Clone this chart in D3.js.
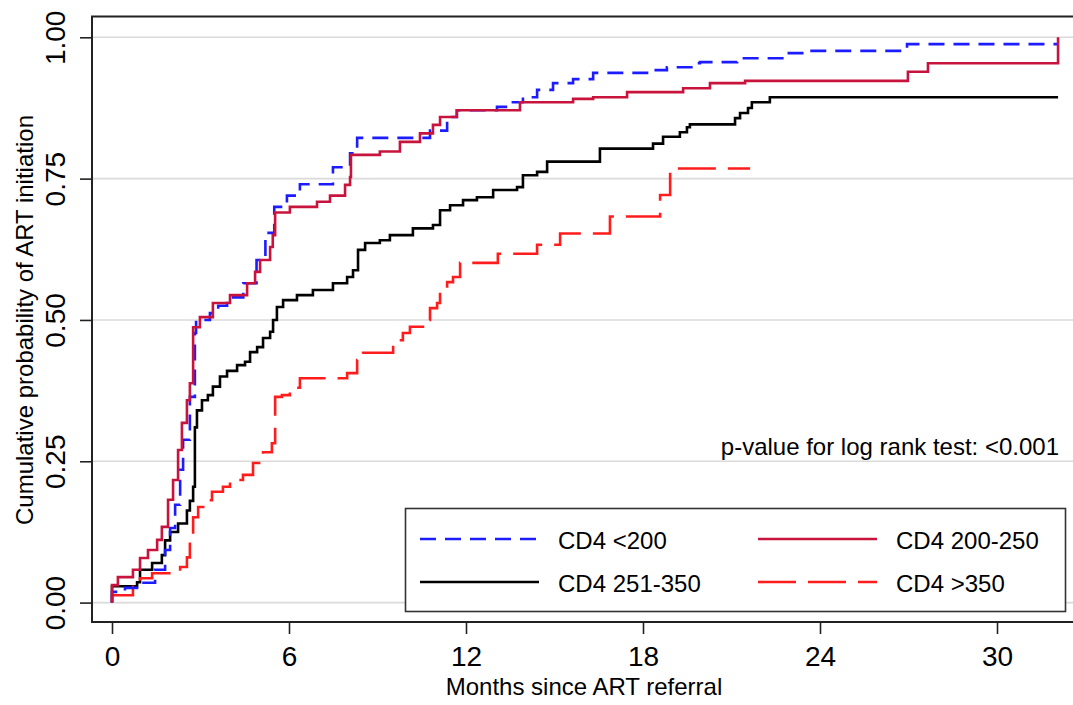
<!DOCTYPE html>
<html>
<head>
<meta charset="utf-8">
<script src="https://cdn.jsdelivr.net/npm/d3@7"></script>
<style>
  body { margin: 0; background: #fff; }
  text { font-family: "Liberation Sans", Arial, Helvetica, sans-serif; fill: #000; }
</style>
</head>
<body>
<div id="chart"></div>
<script>
// step points [months, cumulative probability]
var cd4_lt200 = [[0,0],[0,0.019],[0.44,0.026],[0.95,0.035],[1.46,0.058],[1.8,0.093],[1.97,0.132],[2.14,0.173],[2.31,0.235],[2.41,0.288],[2.64,0.364],[2.81,0.477],[2.85,0.5],[3.32,0.512],[3.6,0.525],[3.9,0.54],[4.45,0.565],[4.9,0.606],[5.2,0.654],[5.5,0.7],[5.93,0.72],[6.37,0.74],[7.49,0.77],[8.07,0.795],[8.31,0.822],[10.2,0.822],[10.78,0.835],[11.36,0.859],[11.69,0.871],[13.05,0.877],[13.59,0.885],[13.93,0.894],[14.41,0.907],[14.95,0.919],[15.63,0.926],[16.31,0.937],[18.34,0.942],[18.81,0.947],[19.69,0.954],[19.93,0.956],[21.19,0.963],[22.88,0.972],[23.66,0.976],[26.95,0.988],[32.07,0.988]]

var cd4_200_250 = [[0,0],[0,0.031],[0.2,0.045],[0.71,0.058],[0.95,0.079],[1.22,0.093],[1.53,0.111],[1.69,0.134],[1.9,0.182],[2.07,0.217],[2.24,0.27],[2.37,0.318],[2.54,0.358],[2.64,0.388],[2.75,0.487],[2.98,0.505],[3.42,0.53],[4.0,0.544],[4.58,0.565],[4.85,0.585],[5.02,0.606],[5.36,0.629],[5.45,0.65],[5.53,0.69],[6.03,0.7],[6.95,0.709],[7.39,0.72],[7.9,0.739],[8.07,0.753],[8.1,0.792],[9.08,0.798],[9.76,0.815],[10.44,0.83],[10.88,0.845],[11.12,0.859],[11.69,0.871],[13.83,0.885],[15.63,0.891],[16.31,0.894],[17.46,0.903],[19.36,0.91],[20.27,0.919],[21.46,0.923],[26.98,0.939],[27.66,0.954],[32.07,1.0]]

var cd4_251_350 = [[0,0],[0,0.029],[0.85,0.036],[0.95,0.058],[1.36,0.07],[1.69,0.084],[1.8,0.11],[1.97,0.125],[2.24,0.14],[2.54,0.163],[2.64,0.18],[2.75,0.205],[2.81,0.31],[2.88,0.34],[3.05,0.358],[3.25,0.367],[3.42,0.382],[3.66,0.4],[3.9,0.41],[4.24,0.42],[4.51,0.426],[4.68,0.443],[4.92,0.452],[5.12,0.468],[5.36,0.479],[5.46,0.5],[5.59,0.523],[5.8,0.535],[6.27,0.544],[6.81,0.553],[7.49,0.565],[7.97,0.576],[8.17,0.588],[8.34,0.624],[8.58,0.636],[9.08,0.641],[9.42,0.65],[10.2,0.662],[10.88,0.668],[11.12,0.694],[11.46,0.703],[11.9,0.712],[12.37,0.717],[12.92,0.73],[13.73,0.735],[13.93,0.756],[14.41,0.762],[14.75,0.78],[16.54,0.803],[18.34,0.812],[18.68,0.824],[19.25,0.832],[19.49,0.841],[19.59,0.846],[21.12,0.857],[21.29,0.866],[21.56,0.875],[21.69,0.885],[22.3,0.894],[32.07,0.894]]

var cd4_gt350 = [[0,0],[0,0.013],[0.71,0.035],[0.95,0.043],[1.36,0.052],[2.31,0.063],[2.54,0.08],[2.64,0.11],[2.75,0.151],[2.92,0.169],[3.22,0.181],[3.39,0.196],[3.76,0.205],[4.0,0.217],[4.44,0.226],[4.78,0.247],[5.12,0.266],[5.42,0.282],[5.53,0.364],[5.76,0.367],[6.03,0.38],[6.37,0.397],[7.97,0.406],[8.31,0.429],[8.51,0.442],[9.53,0.456],[9.69,0.464],[9.86,0.477],[10.1,0.488],[10.54,0.5],[10.78,0.521],[11.02,0.53],[11.12,0.553],[11.36,0.567],[11.56,0.576],[11.8,0.601],[13.08,0.617],[14.41,0.633],[15.19,0.653],[16.88,0.683],[18.58,0.721],[18.92,0.768],[21.63,0.768]]

var series_names = ["CD4 <200", "CD4 200-250", "CD4 251-350", "CD4 >350"]
var x_ticks = [0, 6, 12, 18, 24, 30]
var y_ticks = [0, 0.25, 0.5, 0.75, 1]
var p_note = "p-value for log rank test: <0.001"

var width = 1073, height = 705

var styles = {
  "CD4 <200":    { color: "#1c1cff", dash: "16,9" },
  "CD4 200-250": { color: "#c8143c", dash: null },
  "CD4 251-350": { color: "#000000", dash: null },
  "CD4 >350":    { color: "#ff1c1c", dash: "38,12" }
}
var series_data = {
  "CD4 <200": cd4_lt200,
  "CD4 200-250": cd4_200_250,
  "CD4 251-350": cd4_251_350,
  "CD4 >350": cd4_gt350
}

var svg = d3.select("#chart").append("svg")
  .attr("width", width)
  .attr("height", height)

var x = d3.scaleLinear().domain([0, 30]).range([112, 997])
var y = d3.scaleLinear().domain([0, 1]).range([602.6, 37.3])

var frame_left = 92, frame_top = 16.5, frame_bottom = 622

// grid lines
svg.append("g").selectAll("line")
  .data(y_ticks)
  .enter().append("line")
  .attr("x1", frame_left).attr("x2", width)
  .attr("y1", function(d) { return y(d) })
  .attr("y2", function(d) { return y(d) })
  .attr("stroke", "#dadada")
  .attr("stroke-width", 1.6)

// curves
var line = d3.line()
  .x(function(d) { return x(d[0]) })
  .y(function(d) { return y(d[1]) })
  .curve(d3.curveStepAfter)

var draw_order = ["CD4 251-350", "CD4 >350", "CD4 <200", "CD4 200-250"]
svg.append("g").selectAll("path")
  .data(draw_order)
  .enter().append("path")
  .attr("d", function(d) { return line(series_data[d]) })
  .attr("fill", "none")
  .attr("stroke", function(d) { return styles[d].color })
  .attr("stroke-width", 2.6)
  .attr("stroke-dasharray", function(d) { return styles[d].dash })

// frame (right side is cut off in the original)
svg.append("path")
  .attr("d", "M" + (width + 5) + "," + frame_top + "H" + frame_left + "V" + frame_bottom + "H" + (width + 5))
  .attr("fill", "none")
  .attr("stroke", "#222")
  .attr("stroke-width", 2)

// x axis
var x_axis = svg.append("g")
  .attr("transform", "translate(0," + frame_bottom + ")")
  .call(d3.axisBottom(x).tickValues(x_ticks).tickSize(12).tickPadding(12).tickFormat(d3.format("d")))
x_axis.select(".domain").remove()
x_axis.selectAll(".tick line").attr("stroke", "#222").attr("stroke-width", 1.6)
x_axis.selectAll(".tick text")
  .attr("font-size", 28)
  .attr("font-family", "Liberation Sans, Arial, sans-serif")
  .attr("fill", "#000")

// y axis with rotated labels
var y_axis = svg.append("g")
  .attr("transform", "translate(" + frame_left + ",0)")
  .call(d3.axisLeft(y).tickValues(y_ticks).tickSize(12).tickFormat(d3.format(".2f")))
y_axis.select(".domain").remove()
y_axis.selectAll(".tick line").attr("stroke", "#222").attr("stroke-width", 1.6)
y_axis.selectAll(".tick text")
  .attr("transform", "rotate(-90)")
  .attr("x", 0)
  .attr("y", -27)
  .attr("dy", 0)
  .attr("text-anchor", "middle")
  .attr("font-size", 28)
  .attr("font-family", "Liberation Sans, Arial, sans-serif")
  .attr("fill", "#000")

// axis titles
svg.append("text")
  .attr("x", 584).attr("y", 695)
  .attr("text-anchor", "middle")
  .attr("font-size", 24)
  .text("Months since ART referral")

svg.append("text")
  .attr("transform", "translate(33,320) rotate(-90)")
  .attr("text-anchor", "middle")
  .attr("font-size", 24)
  .text("Cumulative probability of ART initiation")

// p-value note
svg.append("text")
  .attr("x", 1059).attr("y", 455)
  .attr("text-anchor", "end")
  .attr("font-size", 24)
  .text(p_note)

// legend
var legend = svg.append("g")
legend.append("rect")
  .attr("x", 405.5).attr("y", 508.5)
  .attr("width", 660).attr("height", 103)
  .attr("fill", "#fff")
  .attr("stroke", "#333")
  .attr("stroke-width", 1.6)

var legend_cols = [420, 758]
var legend_rows = [539, 582]
var items = legend.selectAll("g.item")
  .data(series_names)
  .enter().append("g")
  .attr("class", "item")
  .attr("transform", function(d, i) {
    return "translate(" + legend_cols[i % 2] + "," + legend_rows[Math.floor(i / 2)] + ")"
  })
items.append("line")
  .attr("x1", 0).attr("x2", 119)
  .attr("y1", 0).attr("y2", 0)
  .attr("stroke", function(d) { return styles[d].color })
  .attr("stroke-width", 2.6)
  .attr("stroke-dasharray", function(d) { return styles[d].dash })
items.append("text")
  .attr("x", 138)
  .attr("y", 10)
  .attr("font-size", 24)
  .text(function(d) { return d })
</script>
</body>
</html>
